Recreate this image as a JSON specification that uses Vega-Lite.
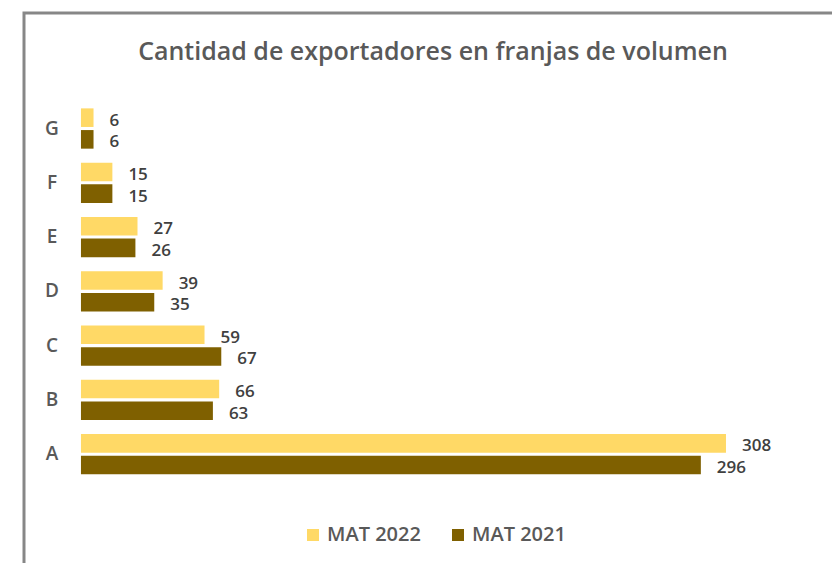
{
  "$schema": "https://vega.github.io/schema/vega-lite/v6.json",
  "autosize": {"type": "none"},
  "width": 818,
  "height": 560,
  "padding": {"left": 24, "top": 13, "right": -10, "bottom": -10},
  "background": "white",
  "title": {
    "text": "Cantidad de exportadores en franjas de volumen",
    "anchor": "middle",
    "frame": "group",
    "dx": 0,
    "offset": -52,
    "font": "Open Sans",
    "fontSize": 25,
    "fontWeight": 600,
    "color": "#595959"
  },
  "config": {"view": {"stroke": "#878787", "strokeWidth": 3}},
  "data": {
    "values": [
      {"cat": "A", "serie": "MAT 2022", "value": 308},
      {"cat": "A", "serie": "MAT 2021", "value": 296},
      {"cat": "B", "serie": "MAT 2022", "value": 66},
      {"cat": "B", "serie": "MAT 2021", "value": 63},
      {"cat": "C", "serie": "MAT 2022", "value": 59},
      {"cat": "C", "serie": "MAT 2021", "value": 67},
      {"cat": "D", "serie": "MAT 2022", "value": 39},
      {"cat": "D", "serie": "MAT 2021", "value": 35},
      {"cat": "E", "serie": "MAT 2022", "value": 27},
      {"cat": "E", "serie": "MAT 2021", "value": 26},
      {"cat": "F", "serie": "MAT 2022", "value": 15},
      {"cat": "F", "serie": "MAT 2021", "value": 15},
      {"cat": "G", "serie": "MAT 2022", "value": 6},
      {"cat": "G", "serie": "MAT 2021", "value": 6}
    ]
  },
  "encoding": {
    "y": {
      "field": "cat",
      "type": "nominal",
      "sort": ["G", "F", "E", "D", "C", "B", "A"],
      "scale": {"range": [41.1, 515.6], "paddingInner": 0.258, "paddingOuter": 1},
      "axis": {
        "title": null,
        "domain": false,
        "ticks": false,
        "tickSize": 0,
        "grid": false,
        "labelPadding": -27.5,
        "labelAlign": "center",
        "labelFont": "Open Sans",
        "labelFontSize": 19,
        "labelFontWeight": 600,
        "labelColor": "#595959"
      }
    },
    "yOffset": {
      "field": "serie",
      "type": "nominal",
      "sort": ["MAT 2022", "MAT 2021"],
      "scale": {"paddingInner": 0.143}
    },
    "x": {
      "field": "value",
      "type": "quantitative",
      "scale": {"domain": [-27.2, 363.4], "nice": false, "zero": false},
      "axis": null
    }
  },
  "layer": [
    {
      "mark": {"type": "bar"},
      "encoding": {
        "x2": {"datum": 0},
        "color": {
          "field": "serie",
          "type": "nominal",
          "sort": ["MAT 2022", "MAT 2021"],
          "scale": {"range": ["#FFD966", "#7F6000"]},
          "legend": {
            "title": null,
            "orient": "none",
            "legendX": 279,
            "legendY": 512,
            "direction": "horizontal",
            "symbolType": "square",
            "symbolSize": 144,
            "symbolStrokeWidth": 0,
            "labelFont": "Open Sans",
            "labelFontSize": 20,
            "labelFontWeight": 600,
            "labelColor": "#595959",
            "labelOffset": 4,
            "columnPadding": 27,
            "padding": 0
          }
        }
      }
    },
    {
      "mark": {
        "type": "text",
        "align": "left",
        "baseline": "middle",
        "dx": 16,
        "dy": 3,
        "font": "Open Sans",
        "fontSize": 17,
        "fontWeight": 600,
        "color": "#404040"
      },
      "encoding": {"text": {"field": "value", "type": "quantitative"}}
    }
  ]
}
